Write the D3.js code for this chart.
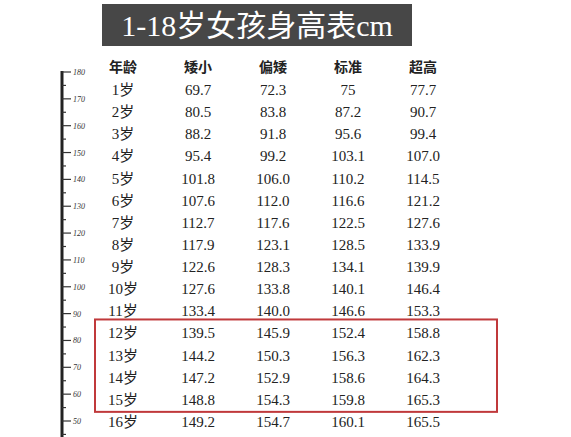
<!DOCTYPE html>
<html>
<head>
<meta charset="utf-8">
<script src="https://cdn.jsdelivr.net/npm/d3@7"></script>
<style>body{margin:0;background:#fff;} svg{display:block;}</style>
</head>
<body>
<svg id="chart" width="571" height="437"></svg>
<script>
// table data
const title = '1-18岁女孩身高表cm';
const columns = ['年龄', '矮小', '偏矮', '标准', '超高'];
const ages = ['1岁','2岁','3岁','4岁','5岁','6岁','7岁','8岁','9岁','10岁','11岁','12岁','13岁','14岁','15岁','16岁'];
const short = ['69.7','80.5','88.2','95.4','101.8','107.6','112.7','117.9','122.6','127.6','133.4','139.5','144.2','147.2','148.8','149.2'];
const lower = ['72.3','83.8','91.8','99.2','106.0','112.0','117.6','123.1','128.3','133.8','140.0','145.9','150.3','152.9','154.3','154.7'];
const standard = ['75','87.2','95.6','103.1','110.2','116.6','122.5','128.5','134.1','140.1','146.6','152.4','156.3','158.6','159.8','160.1'];
const tall = ['77.7','90.7','99.4','107.0','114.5','121.2','127.6','133.9','139.9','146.4','153.3','158.8','162.3','164.3','165.3','165.5'];
const rulerTicks = [180,170,160,150,140,130,120,110,100,90,80,70,60,50];
const highlight = ['12岁','15岁'];

const svg = d3.select('#chart');
const serif = '"Liberation Serif", "DejaVu Serif", "Noto Sans CJK SC", serif';

// title
svg.append('rect').attr('x',102).attr('y',4).attr('width',310).attr('height',42).attr('fill','#474747');
svg.append('text').attr('x',257).attr('y',36).attr('text-anchor','middle')
  .attr('font-family',serif).attr('font-size',30).attr('fill','#fff').text(title);

// ruler
const y = d3.scaleLinear().domain([180,50]).range([72,421]);
svg.append('line').attr('x1',62).attr('x2',62).attr('y1',71).attr('y2',437)
  .attr('stroke','#222').attr('stroke-width',3);
const minor = d3.range(45,181,5);
svg.selectAll('.tk').data(minor).join('line')
  .attr('x1',62).attr('y1',d=>y(d)).attr('y2',d=>y(d))
  .attr('x2',d=>d%10===0?71:66).attr('stroke','#333').attr('stroke-width',1.2);
svg.selectAll('.tl').data(rulerTicks).join('text')
  .attr('x',73).attr('y',d=>y(d)+3).attr('font-family',serif).attr('font-style','italic')
  .attr('font-size',8).attr('fill','#333').text(d=>d);

// table
const x = d3.scalePoint().domain(columns).range([123,423]);
const row = d3.scaleLinear().domain([0,15]).range([89,421]);
svg.selectAll('.hd').data(columns).join('text')
  .attr('x',d=>x(d)).attr('y',72).attr('text-anchor','middle')
  .attr('font-family','"Noto Sans CJK SC", sans-serif').attr('font-weight','bold')
  .attr('font-size',14).attr('fill','#222').text(d=>d);

const series = [ages, short, lower, standard, tall];
series.forEach((vals,ci)=>{
  svg.selectAll('.c'+ci).data(vals).join('text')
    .attr('x',x(columns[ci])).attr('y',(d,i)=>row(i)+6).attr('text-anchor','middle')
    .attr('font-family',serif).attr('font-size',15).attr('fill','#222').text(d=>d);
});

// highlight box
const i0 = ages.indexOf(highlight[0]), i1 = ages.indexOf(highlight[1]);
svg.append('rect').attr('x',95).attr('y',row(i0)-13).attr('width',402)
  .attr('height',row(i1)-row(i0)+26).attr('fill','none').attr('stroke','#c0393b').attr('stroke-width',2);
</script>
</body>
</html>
